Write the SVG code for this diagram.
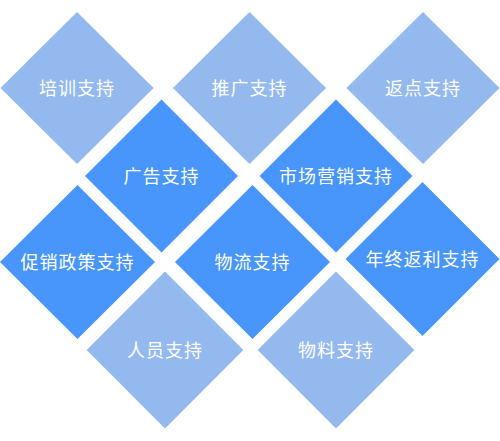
<svg xmlns="http://www.w3.org/2000/svg" width="500" height="441" viewBox="0 0 500 441">
<style>
.l{fill:#93b9ef}
.d{fill:#4896fc}
text{fill:#ffffff;font-family:"Noto Sans CJK SC","Noto Sans",sans-serif;font-size:18px;text-anchor:middle;letter-spacing:1px}
</style>
<rect width="500" height="441" fill="#ffffff"/>
<g id="n1" transform="translate(77,88)"><polygon class="l" points="0,-76 76.5,0 0,76 -76.5,0"/><text y="6.5">培训支持</text></g>
<g id="n2" transform="translate(249.5,88)"><polygon class="l" points="0,-76 76.5,0 0,76 -76.5,0"/><text y="6.5">推广支持</text></g>
<g id="n3" transform="translate(423,88)"><polygon class="l" points="0,-76 76.5,0 0,76 -76.5,0"/><text y="6.5">返点支持</text></g>
<g id="n4" transform="translate(161.5,176)"><polygon class="d" points="0,-76.5 76.5,0 0,76.5 -76.5,0"/><text y="6.5">广告支持</text></g>
<g id="n5" transform="translate(336,176)"><polygon class="d" points="0,-76.5 76.5,0 0,76.5 -76.5,0"/><text y="6.5">市场营销支持</text></g>
<g id="n6" transform="translate(77.5,262)"><polygon class="d" points="0,-77 77.5,0 0,77 -77.5,0"/><text y="6.5">促销政策支持</text></g>
<g id="n7" transform="translate(252.5,262)"><polygon class="d" points="0,-77 77.5,0 0,77 -77.5,0"/><text y="6.5">物流支持</text></g>
<g id="n8" transform="translate(422.5,259)"><polygon class="d" points="0,-77 77,0 0,77 -77,0"/><text y="6.5">年终返利支持</text></g>
<g id="n9" transform="translate(165,350)"><polygon class="l" points="0,-78.5 78.3,0 0,78.5 -78.3,0"/><text y="6.5">人员支持</text></g>
<g id="n10" transform="translate(336,350)"><polygon class="l" points="0,-78.5 78.3,0 0,78.5 -78.3,0"/><text y="6.5">物料支持</text></g>
<g id="connectors"/>
</svg>
